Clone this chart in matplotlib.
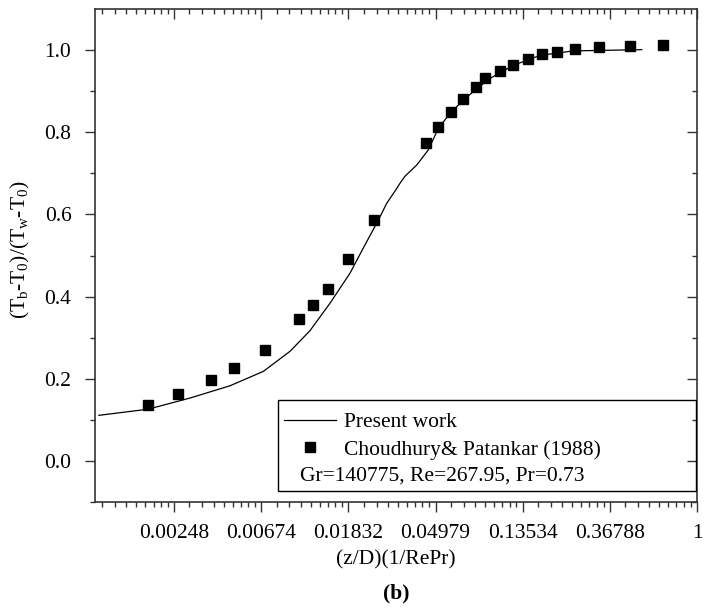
import numpy as np
import matplotlib
matplotlib.use('Agg')
import matplotlib.pyplot as plt
from matplotlib.patches import Rectangle
from matplotlib.lines import Line2D

plt.rcParams['font.family'] = ['Liberation Serif', 'DejaVu Serif']
plt.rcParams['mathtext.fontset'] = 'custom'
plt.rcParams['mathtext.rm'] = 'Liberation Serif'
plt.rcParams['mathtext.it'] = 'Liberation Serif:italic'

# present work (line)
x_line = [0.001046, 0.00184, 0.00297, 0.00471, 0.00690, 0.00938, 0.01178, 0.01483,
          0.01865, 0.02215, 0.02581, 0.02841, 0.03187, 0.03311, 0.03505, 0.04007,
          0.04578, 0.05135, 0.05872, 0.06843, 0.07983, 0.0929, 0.1215, 0.1650,
          0.2417, 0.3545, 0.530]
y_line = [0.111, 0.126, 0.153, 0.183, 0.218, 0.267, 0.317, 0.384,
          0.457, 0.526, 0.586, 0.627, 0.663, 0.676, 0.693, 0.720,
          0.757, 0.809, 0.846, 0.878, 0.906, 0.931, 0.963, 0.987,
          0.998, 0.9995, 1.001]

# Choudhury & Patankar (1988) (squares)
x_pts = [0.00184, 0.00260, 0.00378, 0.00494, 0.00701, 0.01042, 0.01215, 0.01454,
         0.01828, 0.02464, 0.04447, 0.05135, 0.05918, 0.06822, 0.07918, 0.0880,
         0.1042, 0.1210, 0.1433, 0.1695, 0.2013, 0.2466, 0.3246, 0.4635, 0.674]
y_pts = [0.136, 0.164, 0.197, 0.227, 0.270, 0.345, 0.379, 0.418,
         0.492, 0.586, 0.774, 0.812, 0.849, 0.880, 0.910, 0.931,
         0.950, 0.964, 0.978, 0.990, 0.995, 1.002, 1.007, 1.011, 1.012]

xtick_labels = ['0.00248', '0.00674', '0.01832', '0.04979', '0.13534', '0.36788', '1']
ytick_vals = [0.0, 0.2, 0.4, 0.6, 0.8, 1.0]

fs = 15.5

fig = plt.figure(figsize=(7.07, 6.12), dpi=100)
ax = fig.add_axes([0.1344, 0.1797, 0.8515, 0.8056])

ax.plot(x_line, y_line, color='black', lw=0.9)
ax.plot(x_pts, y_pts, ls='none', marker='s', ms=7, color='black')

ax.set_xscale('log')
ax.set_xlim(0.001, 1)
ax.set_ylim(-0.1, 1.1)

xmaj = np.exp(np.arange(-6, 1))
xmin = []
for k in range(-7, 0):
    for v in np.linspace(np.exp(k), np.exp(k + 1), 10)[1:-1]:
        if 0.001 < v < 1:
            xmin.append(v)
ymin = [-0.1, 0.1, 0.3, 0.5, 0.7, 0.9]

ax.set_xticks(xmaj)
ax.set_xticklabels(xtick_labels)
ax.set_xticks(xmin, minor=True)
ax.set_xticklabels([], minor=True)
ax.set_yticks(ytick_vals)
ax.set_yticklabels(['%.1f' % v for v in ytick_vals])
ax.set_yticks(ymin, minor=True)

spc = '#333333'
for s in ax.spines.values():
    s.set_color(spc)
    s.set_linewidth(1.2)
ax.tick_params(which='major', direction='out', length=7, width=1, color=spc,
               labelsize=fs)
ax.tick_params(axis='x', which='major', pad=9)
ax.tick_params(axis='y', which='major', pad=10)
ax.tick_params(which='minor', direction='out', length=3.5, width=1, color=spc)

top = ax.secondary_xaxis('top')
top.set_xticks(xmaj)
top.set_xticks(xmin, minor=True)
top.tick_params(which='major', direction='in', length=7, width=1, color=spc, labeltop=False)
top.tick_params(which='minor', direction='in', length=3.5, width=1, color=spc, labeltop=False)
top.spines['top'].set_visible(False)

right = ax.secondary_yaxis('right')
right.set_yticks(ytick_vals)
right.set_yticks(ymin, minor=True)
right.tick_params(which='major', direction='in', length=7, width=1, color=spc, labelright=False)
right.tick_params(which='minor', direction='in', length=3.5, width=1, color=spc, labelright=False)
right.spines['right'].set_visible(False)

ax.set_xlabel('(z/D)(1/RePr)', fontsize=fs, labelpad=5)
ax.set_ylabel(r'(T$_\mathrm{b}$-T$_\mathrm{0}$)/(T$_\mathrm{w}$-T$_\mathrm{0}$)',
              fontsize=fs)
ax.yaxis.set_label_coords(-0.104, 0.511)

# legend box
ax.add_patch(Rectangle((0.3045, 0.0229), 0.6935, 0.184, transform=ax.transAxes,
                       fill=False, ec='black', lw=1.0, zorder=5))
handles = [Line2D([], [], color='black', lw=0.9),
           Line2D([], [], ls='none', marker='s', ms=7, color='black')]
ax.legend(handles, ['Present work', 'Choudhury& Patankar (1988)'],
          loc='upper left', bbox_to_anchor=(0.303, 0.195), frameon=False,
          fontsize=fs, handlelength=2.4, handletextpad=0.4,
          labelspacing=0.35, borderaxespad=0, borderpad=0.3)
ax.text(0.3405, 0.0528, 'Gr=140775, Re=267.95, Pr=0.73', transform=ax.transAxes,
        fontsize=fs, va='center', ha='left')

fig.text(0.5599, 0.031, '(b)', fontsize=fs, fontweight='bold', ha='center', va='center')

fig.savefig('out.png', dpi=100)
